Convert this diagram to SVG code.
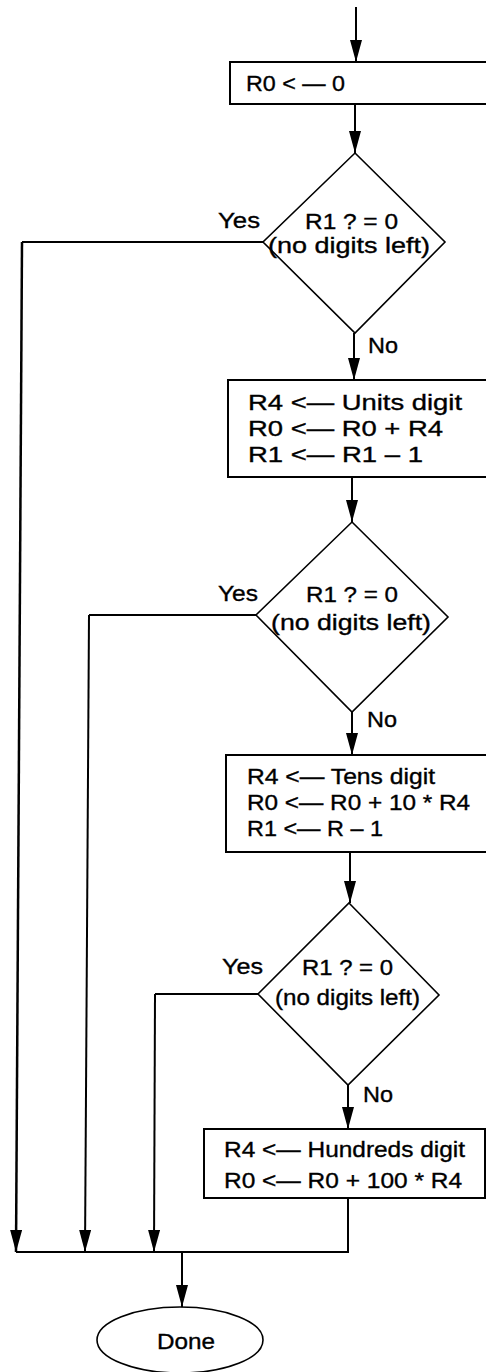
<svg xmlns="http://www.w3.org/2000/svg" width="486" height="1372" viewBox="0 0 486 1372">
<style>
  .bg{fill:#fff}
  .box{fill:#fff;stroke:#000;stroke-width:2}
  .dia{fill:#fff;stroke:#000;stroke-width:1.6}
  .ln{fill:none;stroke:#000;stroke-width:2}
  .arr{fill:none;stroke:#000;stroke-width:2;marker-end:url(#ah)}
  text{font-family:"Liberation Sans",Arial,Helvetica,sans-serif;font-size:22px;fill:#000;stroke:#000;stroke-width:0.35}
</style>
<defs>
  <marker id="ah" markerUnits="userSpaceOnUse" markerWidth="22" markerHeight="12" refX="22" refY="6" orient="auto">
    <path d="M0,0 L22,6 L0,12 Z" fill="#000"/>
  </marker>
</defs>
<rect class="bg" x="0" y="0" width="486" height="1372"/>

<g id="connectors">
  <line class="arr" x1="356" y1="7" x2="356" y2="62"/>
  <line class="arr" x1="355" y1="104" x2="355" y2="153"/>
  <line class="arr" x1="354" y1="333" x2="354" y2="380"/>
  <line class="arr" x1="352" y1="477" x2="352" y2="522"/>
  <line class="arr" x1="352" y1="712" x2="352" y2="755"/>
  <line class="arr" x1="350" y1="852" x2="350" y2="903"/>
  <line class="arr" x1="348" y1="1085" x2="348" y2="1129"/>
  <polyline class="ln" points="263,242 22,242"/>
  <line class="arr" x1="22" y1="242" x2="16" y2="1252" style="stroke-width:2.5"/>
  <polyline class="ln" points="256,615 89,615"/>
  <line class="arr" x1="89" y1="615" x2="85" y2="1252"/>
  <polyline class="ln" points="258,994 155,994"/>
  <line class="arr" x1="155" y1="994" x2="154" y2="1252"/>
  <polyline class="ln" points="348,1198 348,1252 16,1252"/>
  <line class="arr" x1="182" y1="1252" x2="182" y2="1307"/>
  <text x="368" y="353" textLength="30" lengthAdjust="spacingAndGlyphs">No</text>
  <text x="367" y="727" textLength="30" lengthAdjust="spacingAndGlyphs">No</text>
  <text x="363" y="1102" textLength="30" lengthAdjust="spacingAndGlyphs">No</text>
  <text x="218" y="228" textLength="42" lengthAdjust="spacingAndGlyphs">Yes</text>
  <text x="218" y="601" textLength="40" lengthAdjust="spacingAndGlyphs">Yes</text>
  <text x="222" y="974" textLength="41" lengthAdjust="spacingAndGlyphs">Yes</text>
</g>

<g id="init">
  <rect class="box" x="230" y="62" width="262" height="42"/>
  <text x="246" y="91" textLength="99" lengthAdjust="spacingAndGlyphs">R0 &lt; — 0</text>
</g>

<g id="test1">
  <polygon class="dia" points="355,153 445,242 355,333 263,242"/>
  <text x="305" y="229" textLength="93" lengthAdjust="spacingAndGlyphs">R1 ? = 0</text>
  <text x="268" y="253" textLength="162" lengthAdjust="spacingAndGlyphs">(no digits left)</text>
</g>

<g id="units">
  <rect class="box" x="228" y="380" width="264" height="97"/>
  <text x="248" y="410" textLength="214" lengthAdjust="spacingAndGlyphs">R4 &lt;— Units digit</text>
  <text x="248" y="436" textLength="195" lengthAdjust="spacingAndGlyphs">R0 &lt;— R0 + R4</text>
  <text x="248" y="462" textLength="175" lengthAdjust="spacingAndGlyphs">R1 &lt;— R1 – 1</text>
</g>

<g id="test2">
  <polygon class="dia" points="352,522 448,617 352,712 256,615"/>
  <text x="306" y="602" textLength="92" lengthAdjust="spacingAndGlyphs">R1 ? = 0</text>
  <text x="271" y="630" textLength="160" lengthAdjust="spacingAndGlyphs">(no digits left)</text>
</g>

<g id="tens">
  <rect class="box" x="226" y="755" width="266" height="97"/>
  <text x="247" y="784" textLength="188" lengthAdjust="spacingAndGlyphs">R4 &lt;— Tens digit</text>
  <text x="247" y="810" textLength="223" lengthAdjust="spacingAndGlyphs">R0 &lt;— R0 + 10 * R4</text>
  <text x="247" y="836" textLength="136" lengthAdjust="spacingAndGlyphs">R1 &lt;— R – 1</text>
</g>

<g id="test3">
  <polygon class="dia" points="349,903 439,995 348,1085 258,994"/>
  <text x="302" y="975" textLength="91" lengthAdjust="spacingAndGlyphs">R1 ? = 0</text>
  <text x="275" y="1005" textLength="145" lengthAdjust="spacingAndGlyphs">(no digits left)</text>
</g>

<g id="hundreds">
  <rect class="box" x="204" y="1129" width="281" height="69"/>
  <text x="224" y="1157" textLength="241" lengthAdjust="spacingAndGlyphs">R4 &lt;— Hundreds digit</text>
  <text x="224" y="1188" textLength="238" lengthAdjust="spacingAndGlyphs">R0 &lt;— R0 + 100 * R4</text>
</g>

<g id="done">
  <ellipse class="dia" cx="180" cy="1340" rx="83" ry="33"/>
  <text x="157" y="1349" font-size="24" textLength="58" lengthAdjust="spacingAndGlyphs">Done</text>
</g>
</svg>
